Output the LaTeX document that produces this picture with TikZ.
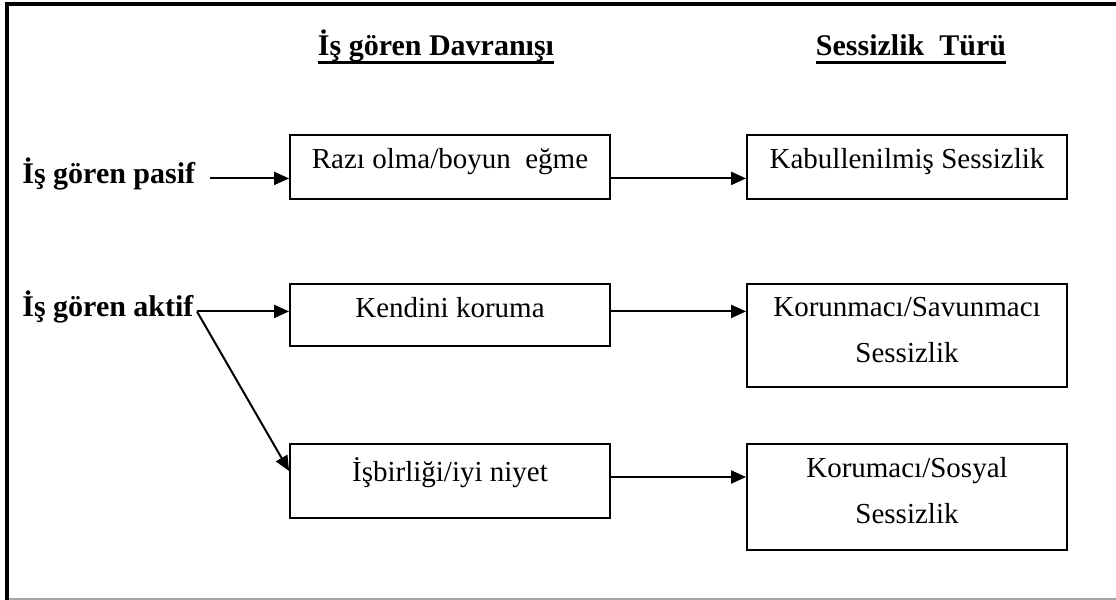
\documentclass[tikz,border=0pt]{standalone}
\usepackage{fontspec}
\setmainfont{Liberation Serif}
\usetikzlibrary{arrows.meta,positioning}

\begin{document}
\begin{tikzpicture}[
    x=0.5pt, y=-0.5pt,
    font=\fontsize{14.5}{23}\selectfont,
    box/.style={
        draw,
        line width=0.9pt,
        minimum width=160pt,
        inner sep=0pt
    },
    boxtext/.style={anchor=north, align=center, inner sep=0pt, yshift=-7pt},
    side/.style={font=\fontsize{15}{18}\selectfont\bfseries, inner sep=0pt, anchor=base west},
    head/.style={font=\fontsize{15}{18}\selectfont\bfseries, inner sep=0pt, anchor=base},
    headrule/.style={line width=1.6pt},
    frame/.style={line width=2pt},
    arrow/.style={-{Triangle[length=7.5pt, width=6.5pt]}, line width=1pt}
]
\useasboundingbox (0,0) rectangle (1116,600);

% frame
\draw[frame] (7,600) -- (7,4) -- (1116,4);
\draw[gray!70, line width=0.8pt] (9,599) -- (1116,599);

% headers
\node[head] (hdrbeh) at (436,55) {İş gören Davranışı};
\node[head] (hdrsil) at (911,55) {Sessizlik\ \ Türü};
\draw[headrule] ([yshift=-3.75pt]hdrbeh.base west) -- ([yshift=-3.75pt]hdrbeh.base east);
\draw[headrule] ([yshift=-3.75pt]hdrsil.base west) -- ([yshift=-3.75pt]hdrsil.base east);

% employee side
\node[side] (pasif) at (22,183) {İş gören pasif};
\node[side] (aktif) at (22,316) {İş gören aktif};

% behaviour boxes
\node[box, minimum height=32pt, label={[boxtext]north:Razı olma/boyun\ \ eğme}] (razi) at (450,167) {};
\node[box, minimum height=31pt, label={[boxtext]north:Kendini koruma}] (kendini) at (450,315) {};
\node[box, minimum height=37pt, label={[boxtext]north:İşbirliği/iyi niyet}] (isbirligi) at (450,481) {};

% silence boxes
\node[box, minimum height=32pt, label={[boxtext]north:Kabullenilmiş Sessizlik}] (kabul) at (907,167) {};
\node[box, minimum height=51.5pt, label={[boxtext]north:{Korunmacı/Savunmacı\\Sessizlik}}] (korunmaci) at (907,335.5) {};
\node[box, minimum height=53pt, label={[boxtext]north:{Korumacı/Sosyal\\Sessizlik}}] (korumaci) at (907,497) {};

\draw[arrow] ([xshift=7pt]pasif.mid east) -- (pasif.mid east -| razi.west);
\draw[arrow] ([xshift=1.5pt]aktif.mid east) -- (aktif.mid east -| kendini.west);
\draw[arrow] ([xshift=1.5pt]aktif.mid east) -- ([yshift=5pt]isbirligi.west);

\draw[arrow] (razi.east |- pasif.mid east) -- (kabul.west |- pasif.mid east);
\draw[arrow] (kendini.east |- aktif.mid east) -- (korunmaci.west |- aktif.mid east);
\draw[arrow] ([yshift=2pt]isbirligi.east) -- ([yshift=2pt]isbirligi.east -| korumaci.west);
\end{tikzpicture}
\end{document}
